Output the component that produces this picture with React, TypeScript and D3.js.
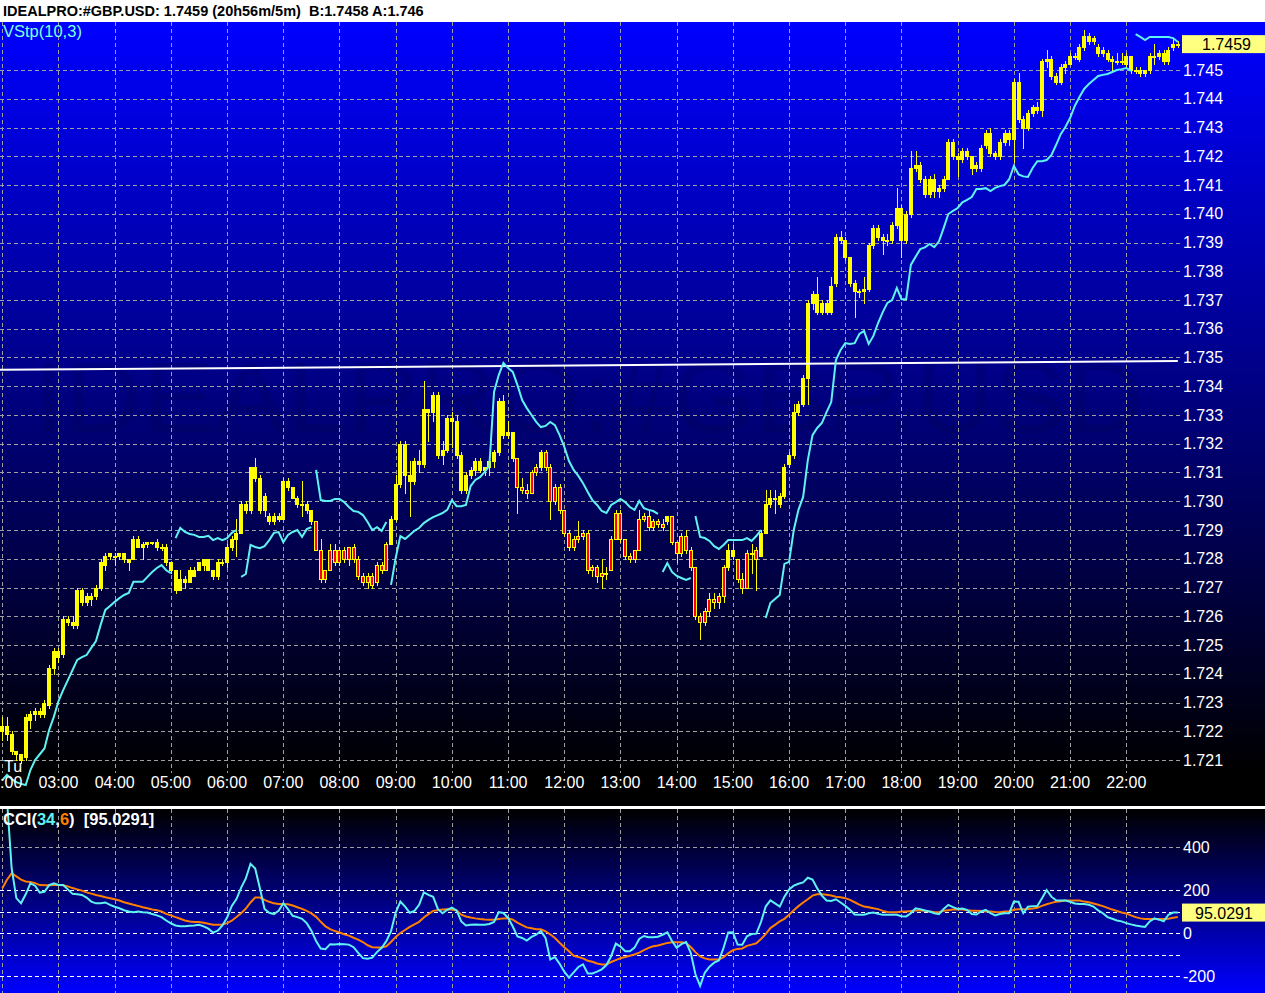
import React, { useEffect, useRef } from "react";
import * as d3 from "d3";

// 5 minute bars, 02:00 to 22:55
const opens = [
  1.7220, 1.7222, 1.7219, 1.7213, 1.7212, 1.7211, 1.7224, 1.7226, 1.7227, 1.7226,
  1.7229, 1.7242, 1.7248, 1.7247, 1.7259, 1.7258, 1.7257, 1.7269, 1.7265, 1.7267,
  1.7267, 1.7270, 1.7278, 1.7281, 1.7281, 1.7281, 1.7282, 1.7280, 1.7280, 1.7287,
  1.7284, 1.7285, 1.7286, 1.7286, 1.7284, 1.7284, 1.7279, 1.7276, 1.7269, 1.7273,
  1.7272, 1.7274, 1.7276, 1.7278, 1.7280, 1.7276, 1.7274, 1.7279, 1.7279, 1.7284,
  1.7287, 1.7289, 1.7299, 1.7297, 1.7312, 1.7308, 1.7297, 1.7295, 1.7293, 1.7295,
  1.7294, 1.7307, 1.7305, 1.7301, 1.7299, 1.7299, 1.7297, 1.7293, 1.7283, 1.7273,
  1.7276, 1.7283, 1.7279, 1.7283, 1.7280, 1.7284, 1.7280, 1.7274, 1.7272, 1.7274,
  1.7272, 1.7278, 1.7276, 1.7285, 1.7294, 1.7306, 1.7320, 1.7309, 1.7307, 1.7314,
  1.7313, 1.7332, 1.7331, 1.7337, 1.7316, 1.7318, 1.7329, 1.7328, 1.7316, 1.7304,
  1.7309, 1.7311, 1.7314, 1.7311, 1.7312, 1.7314, 1.7317, 1.7335, 1.7323, 1.7324,
  1.7315, 1.7305, 1.7304, 1.7303, 1.7310, 1.7312, 1.7317, 1.7312, 1.7300, 1.7305,
  1.7297, 1.7289, 1.7284, 1.7287, 1.7288, 1.7289, 1.7276, 1.7277, 1.7274, 1.7275,
  1.7276, 1.7287, 1.7296, 1.7287, 1.7281, 1.7280, 1.7283, 1.7294, 1.7295, 1.7291,
  1.7293, 1.7292, 1.7293, 1.7295, 1.7286, 1.7282, 1.7288, 1.7283, 1.7277, 1.7260,
  1.7258, 1.7262, 1.7266, 1.7265, 1.7267, 1.7277, 1.7283, 1.7280, 1.7273, 1.7270,
  1.7282, 1.7283, 1.7281, 1.7289, 1.7299, 1.7301, 1.7299, 1.7302, 1.7313, 1.7316,
  1.7331, 1.7334, 1.7343, 1.7369, 1.7372, 1.7366, 1.7369, 1.7366, 1.7376, 1.7392,
  1.7391, 1.7385, 1.7376, 1.7373, 1.7373, 1.7374, 1.7389, 1.7395, 1.7392, 1.7391,
  1.7391, 1.7396, 1.7402, 1.7391, 1.7400, 1.7416, 1.7417, 1.7412, 1.7407, 1.7412,
  1.7408, 1.7409, 1.7412, 1.7425, 1.7420, 1.7419, 1.7422, 1.7420, 1.7416, 1.7416,
  1.7424, 1.7428, 1.7421, 1.7420, 1.7425, 1.7428, 1.7426, 1.7446, 1.7433, 1.7430,
  1.7435, 1.7437, 1.7436, 1.7453, 1.7454, 1.7448, 1.7446, 1.7451, 1.7452, 1.7455,
  1.7454, 1.7458, 1.7462, 1.7460, 1.7458, 1.7457, 1.7456, 1.7454, 1.7453, 1.7453,
  1.7452, 1.7455, 1.7450, 1.7450, 1.7449, 1.7450, 1.7455, 1.7455, 1.7456, 1.7453,
  1.7458, 1.7459,
];

const highs = [
  1.7225, 1.7225, 1.7220, 1.7213, 1.7212, 1.7226, 1.7227, 1.7228, 1.7228, 1.7231,
  1.7243, 1.7249, 1.7249, 1.7260, 1.7260, 1.7260, 1.7270, 1.7270, 1.7268, 1.7268,
  1.7271, 1.7280, 1.7282, 1.7282, 1.7282, 1.7282, 1.7282, 1.7280, 1.7288, 1.7288,
  1.7286, 1.7286, 1.7286, 1.7287, 1.7285, 1.7285, 1.7279, 1.7276, 1.7276, 1.7274,
  1.7277, 1.7277, 1.7279, 1.7280, 1.7280, 1.7276, 1.7280, 1.7280, 1.7285, 1.7288,
  1.7294, 1.7300, 1.7300, 1.7312, 1.7315, 1.7309, 1.7303, 1.7296, 1.7296, 1.7296,
  1.7308, 1.7308, 1.7305, 1.7302, 1.7307, 1.7300, 1.7297, 1.7293, 1.7287, 1.7276,
  1.7285, 1.7285, 1.7284, 1.7284, 1.7284, 1.7285, 1.7281, 1.7275, 1.7275, 1.7275,
  1.7279, 1.7279, 1.7286, 1.7295, 1.7309, 1.7321, 1.7321, 1.7314, 1.7315, 1.7318,
  1.7342, 1.7332, 1.7338, 1.7338, 1.7321, 1.7330, 1.7331, 1.7330, 1.7317, 1.7310,
  1.7312, 1.7315, 1.7315, 1.7312, 1.7314, 1.7318, 1.7336, 1.7337, 1.7328, 1.7324,
  1.7315, 1.7308, 1.7306, 1.7311, 1.7313, 1.7318, 1.7318, 1.7313, 1.7306, 1.7306,
  1.7297, 1.7290, 1.7288, 1.7293, 1.7290, 1.7290, 1.7278, 1.7278, 1.7280, 1.7277,
  1.7288, 1.7297, 1.7297, 1.7287, 1.7282, 1.7283, 1.7297, 1.7296, 1.7297, 1.7294,
  1.7294, 1.7294, 1.7295, 1.7295, 1.7286, 1.7289, 1.7290, 1.7284, 1.7277, 1.7261,
  1.7263, 1.7268, 1.7268, 1.7268, 1.7278, 1.7285, 1.7285, 1.7280, 1.7275, 1.7283,
  1.7285, 1.7284, 1.7290, 1.7304, 1.7304, 1.7304, 1.7303, 1.7313, 1.7317, 1.7334,
  1.7335, 1.7344, 1.7370, 1.7373, 1.7378, 1.7370, 1.7370, 1.7378, 1.7393, 1.7394,
  1.7392, 1.7385, 1.7377, 1.7374, 1.7378, 1.7390, 1.7396, 1.7396, 1.7393, 1.7393,
  1.7397, 1.7409, 1.7403, 1.7401, 1.7422, 1.7422, 1.7418, 1.7413, 1.7413, 1.7414,
  1.7410, 1.7413, 1.7426, 1.7426, 1.7421, 1.7423, 1.7423, 1.7420, 1.7418, 1.7424,
  1.7429, 1.7430, 1.7422, 1.7426, 1.7429, 1.7429, 1.7447, 1.7449, 1.7434, 1.7436,
  1.7438, 1.7439, 1.7454, 1.7457, 1.7455, 1.7449, 1.7452, 1.7453, 1.7456, 1.7456,
  1.7459, 1.7464, 1.7463, 1.7462, 1.7459, 1.7458, 1.7457, 1.7455, 1.7456, 1.7456,
  1.7456, 1.7455, 1.7451, 1.7451, 1.7450, 1.7456, 1.7459, 1.7457, 1.7457, 1.7458,
  1.7461, 1.7460,
];

const lows = [
  1.7217, 1.7217, 1.7212, 1.7210, 1.7209, 1.7210, 1.7221, 1.7224, 1.7225, 1.7225,
  1.7228, 1.7240, 1.7244, 1.7246, 1.7257, 1.7256, 1.7256, 1.7264, 1.7264, 1.7264,
  1.7266, 1.7269, 1.7276, 1.7280, 1.7278, 1.7280, 1.7279, 1.7276, 1.7280, 1.7284,
  1.7280, 1.7284, 1.7285, 1.7283, 1.7283, 1.7278, 1.7275, 1.7268, 1.7269, 1.7270,
  1.7272, 1.7274, 1.7276, 1.7276, 1.7276, 1.7273, 1.7273, 1.7278, 1.7277, 1.7283,
  1.7281, 1.7289, 1.7296, 1.7296, 1.7307, 1.7296, 1.7295, 1.7292, 1.7292, 1.7293,
  1.7294, 1.7304, 1.7301, 1.7298, 1.7295, 1.7296, 1.7292, 1.7283, 1.7272, 1.7272,
  1.7276, 1.7278, 1.7278, 1.7279, 1.7278, 1.7279, 1.7273, 1.7271, 1.7270, 1.7270,
  1.7271, 1.7275, 1.7276, 1.7285, 1.7293, 1.7305, 1.7303, 1.7295, 1.7306, 1.7310,
  1.7312, 1.7321, 1.7328, 1.7315, 1.7313, 1.7317, 1.7319, 1.7315, 1.7303, 1.7303,
  1.7308, 1.7309, 1.7310, 1.7309, 1.7309, 1.7312, 1.7316, 1.7322, 1.7322, 1.7314,
  1.7296, 1.7303, 1.7301, 1.7303, 1.7309, 1.7311, 1.7311, 1.7294, 1.7299, 1.7296,
  1.7288, 1.7283, 1.7283, 1.7286, 1.7287, 1.7275, 1.7274, 1.7272, 1.7270, 1.7273,
  1.7276, 1.7287, 1.7286, 1.7280, 1.7279, 1.7279, 1.7283, 1.7293, 1.7290, 1.7290,
  1.7291, 1.7290, 1.7292, 1.7285, 1.7279, 1.7281, 1.7282, 1.7276, 1.7259, 1.7252,
  1.7257, 1.7260, 1.7263, 1.7263, 1.7265, 1.7276, 1.7280, 1.7272, 1.7268, 1.7270,
  1.7275, 1.7269, 1.7281, 1.7289, 1.7298, 1.7296, 1.7298, 1.7301, 1.7312, 1.7315,
  1.7330, 1.7333, 1.7334, 1.7367, 1.7365, 1.7365, 1.7365, 1.7365, 1.7375, 1.7390,
  1.7384, 1.7375, 1.7364, 1.7371, 1.7369, 1.7373, 1.7388, 1.7391, 1.7386, 1.7389,
  1.7390, 1.7395, 1.7385, 1.7390, 1.7399, 1.7415, 1.7411, 1.7406, 1.7406, 1.7406,
  1.7406, 1.7408, 1.7412, 1.7419, 1.7413, 1.7418, 1.7419, 1.7414, 1.7415, 1.7415,
  1.7423, 1.7420, 1.7419, 1.7419, 1.7424, 1.7424, 1.7418, 1.7432, 1.7423, 1.7429,
  1.7434, 1.7435, 1.7434, 1.7451, 1.7447, 1.7445, 1.7445, 1.7449, 1.7452, 1.7454,
  1.7453, 1.7457, 1.7459, 1.7459, 1.7455, 1.7455, 1.7453, 1.7450, 1.7452, 1.7452,
  1.7451, 1.7449, 1.7449, 1.7448, 1.7448, 1.7449, 1.7452, 1.7454, 1.7452, 1.7452,
  1.7457, 1.7458,
];

const closes = [
  1.7222, 1.7219, 1.7213, 1.7212, 1.7210, 1.7225, 1.7226, 1.7227, 1.7226, 1.7230,
  1.7242, 1.7248, 1.7246, 1.7259, 1.7258, 1.7257, 1.7269, 1.7265, 1.7267, 1.7266,
  1.7270, 1.7279, 1.7281, 1.7282, 1.7281, 1.7282, 1.7280, 1.7279, 1.7287, 1.7284,
  1.7285, 1.7286, 1.7286, 1.7284, 1.7284, 1.7279, 1.7276, 1.7269, 1.7273, 1.7272,
  1.7276, 1.7276, 1.7279, 1.7280, 1.7276, 1.7274, 1.7279, 1.7279, 1.7284, 1.7287,
  1.7289, 1.7299, 1.7297, 1.7312, 1.7308, 1.7297, 1.7302, 1.7293, 1.7295, 1.7294,
  1.7307, 1.7305, 1.7301, 1.7299, 1.7299, 1.7297, 1.7293, 1.7283, 1.7273, 1.7276,
  1.7283, 1.7279, 1.7283, 1.7280, 1.7284, 1.7280, 1.7274, 1.7272, 1.7274, 1.7271,
  1.7278, 1.7276, 1.7285, 1.7294, 1.7306, 1.7320, 1.7309, 1.7307, 1.7314, 1.7313,
  1.7332, 1.7331, 1.7337, 1.7316, 1.7318, 1.7329, 1.7328, 1.7316, 1.7304, 1.7309,
  1.7311, 1.7314, 1.7311, 1.7312, 1.7314, 1.7317, 1.7335, 1.7323, 1.7324, 1.7315,
  1.7305, 1.7304, 1.7303, 1.7310, 1.7312, 1.7317, 1.7312, 1.7300, 1.7305, 1.7297,
  1.7289, 1.7284, 1.7287, 1.7288, 1.7289, 1.7276, 1.7277, 1.7274, 1.7275, 1.7275,
  1.7287, 1.7296, 1.7287, 1.7281, 1.7280, 1.7283, 1.7294, 1.7295, 1.7291, 1.7293,
  1.7292, 1.7291, 1.7295, 1.7286, 1.7282, 1.7288, 1.7283, 1.7277, 1.7260, 1.7258,
  1.7262, 1.7266, 1.7265, 1.7267, 1.7277, 1.7283, 1.7281, 1.7273, 1.7270, 1.7282,
  1.7282, 1.7280, 1.7289, 1.7299, 1.7301, 1.7301, 1.7302, 1.7312, 1.7316, 1.7331,
  1.7334, 1.7343, 1.7369, 1.7372, 1.7366, 1.7369, 1.7366, 1.7375, 1.7392, 1.7391,
  1.7385, 1.7376, 1.7373, 1.7373, 1.7374, 1.7389, 1.7395, 1.7392, 1.7391, 1.7391,
  1.7396, 1.7402, 1.7391, 1.7400, 1.7416, 1.7417, 1.7412, 1.7407, 1.7412, 1.7408,
  1.7409, 1.7412, 1.7425, 1.7420, 1.7419, 1.7422, 1.7420, 1.7416, 1.7417, 1.7423,
  1.7428, 1.7421, 1.7420, 1.7425, 1.7428, 1.7426, 1.7446, 1.7433, 1.7430, 1.7435,
  1.7437, 1.7436, 1.7453, 1.7454, 1.7448, 1.7446, 1.7451, 1.7452, 1.7455, 1.7455,
  1.7458, 1.7462, 1.7460, 1.7461, 1.7456, 1.7456, 1.7454, 1.7453, 1.7453, 1.7453,
  1.7455, 1.7450, 1.7450, 1.7449, 1.7450, 1.7455, 1.7455, 1.7456, 1.7453, 1.7457,
  1.7459, 1.7459,
];

// volatility stop VStp(10,3), one value per bar
const vstop = [
  1.72030, 1.72048, 1.72034, 1.72023, 1.72017, 1.72013, 1.72065, 1.72100, 1.72120, 1.72140,
  1.72204, 1.72250, 1.72305, 1.72343, 1.72378, 1.72413, 1.72448, 1.72458, 1.72465, 1.72490,
  1.72514, 1.72570, 1.72622, 1.72636, 1.72650, 1.72663, 1.72674, 1.72681, 1.72720, 1.72720,
  1.72720, 1.72737, 1.72754, 1.72768, 1.72778, 1.72760, 1.72750, 1.72872, 1.72907, 1.72893,
  1.72886, 1.72883, 1.72876, 1.72876, 1.72880, 1.72865, 1.72872, 1.72865, 1.72872, 1.72890,
  1.72900, 1.72737, 1.72747, 1.72848, 1.72841, 1.72837, 1.72844, 1.72865, 1.72890, 1.72893,
  1.72858, 1.72883, 1.72893, 1.72900, 1.72876, 1.72903, 1.72910, 1.73109, 1.73004, 1.73001,
  1.73001, 1.73008, 1.73008, 1.72997, 1.72980, 1.72966, 1.72963, 1.72952, 1.72928, 1.72900,
  1.72910, 1.72897, 1.72928, 1.72709, 1.72803, 1.72879, 1.72869, 1.72883, 1.72897, 1.72907,
  1.72924, 1.72935, 1.72945, 1.72952, 1.72959, 1.72970, 1.73004, 1.72983, 1.72983, 1.72987,
  1.73053, 1.73074, 1.73084, 1.73102, 1.73123, 1.73380, 1.73439, 1.73481, 1.73463, 1.73450,
  1.73404, 1.73352, 1.73324, 1.73300, 1.73276, 1.73258, 1.73262, 1.73276, 1.73265, 1.73230,
  1.73189, 1.73140, 1.73109, 1.73088, 1.73063, 1.73032, 1.73004, 1.72987, 1.72966, 1.72959,
  1.72987, 1.72997, 1.73008, 1.72997, 1.72980, 1.72970, 1.73001, 1.72976, 1.72970, 1.72966,
  1.72956, 1.72754, 1.72785, 1.72754, 1.72740, 1.72733, 1.72726, 1.72733, 1.72949, 1.72876,
  1.72872, 1.72862, 1.72844, 1.72834, 1.72848, 1.72865, 1.72865, 1.72865, 1.72865, 1.72872,
  1.72862, 1.72879, 1.72900, 1.72594, 1.72646, 1.72660, 1.72674, 1.72782, 1.72789, 1.72900,
  1.72970, 1.73015, 1.73143, 1.73230, 1.73255, 1.73272, 1.73310, 1.73345, 1.73491, 1.73526,
  1.73550, 1.73547, 1.73550, 1.73582, 1.73592, 1.73547, 1.73575, 1.73620, 1.73658, 1.73690,
  1.73700, 1.73742, 1.73703, 1.73703, 1.73822, 1.73850, 1.73877, 1.73883, 1.73895, 1.73884,
  1.73904, 1.73950, 1.73999, 1.74010, 1.74020, 1.74040, 1.74048, 1.74058, 1.74086, 1.74086,
  1.74089, 1.74079, 1.74090, 1.74096, 1.74100, 1.74120, 1.74166, 1.74137, 1.74130, 1.74128,
  1.74159, 1.74183, 1.74183, 1.74187, 1.74204, 1.74239, 1.74277, 1.74302, 1.74333, 1.74375,
  1.74406, 1.74434, 1.74451, 1.74465, 1.74479, 1.74483, 1.74486, 1.74493, 1.74500, 1.74503,
  1.74507, 1.74497, 1.74625, 1.74615, 1.74604, 1.74615, 1.74615, 1.74615, 1.74615, 1.74615,
  1.74611, 1.74597,
];
// bars where the stop flips side and a new line piece starts
const vstopFlips = [37, 51, 67, 83, 141, 148, 163, 242];

// CCI(34) and its 6 bar average
const cci = [
  750, 620, 300, 162, 138, 180, 231, 220, 188, 192,
  223, 231, 223, 223, 203, 182, 180, 177, 165, 146,
  138, 138, 142, 131, 122, 115, 106, 100, 97, 100,
  97, 95, 88, 82, 74, 58, 45, 35, 31, 31,
  34, 35, 38, 31, 20, 2, 11, 35, 72, 126,
  158, 211, 254, 322, 300, 208, 112, 94, 88, 103,
  138, 111, 80, 74, 66, 46, 11, -37, -72, -75,
  -52, -54, -51, -52, -54, -66, -92, -117, -120, -115,
  -89, -69, -38, 8, 95, 146, 123, 94, 103, 131,
  189, 177, 168, 112, 92, 108, 118, 105, 54, 35,
  38, 40, 38, 38, 42, 51, 97, 93, 70, 30,
  -16, -23, -35, -18, -8, 9, -23, -123, -112, -143,
  -180, -208, -183, -158, -146, -188, -188, -180, -169, -149,
  -108, -49, -63, -85, -85, -68, -28, -14, -20, -20,
  -17, -8, 3, -37, -69, -52, -42, -92, -192, -246,
  -185, -157, -138, -128, -69, 2, 3, -54, -55, -15,
  -5, -3, 51, 123, 152, 138, 123, 169, 203, 220,
  229, 235, 257, 249, 208, 174, 151, 149, 157, 142,
  126, 108, 86, 85, 85, 92, 95, 89, 85, 85,
  85, 85, 78, 77, 92, 115, 111, 105, 100, 92,
  88, 112, 131, 120, 112, 114, 108, 88, 86, 100,
  108, 92, 82, 88, 92, 92, 146, 145, 92, 122,
  125, 126, 162, 200, 169, 152, 151, 151, 145, 137,
  135, 135, 131, 123, 105, 92, 74, 66, 58, 54,
  46, 40, 35, 31, 28, 54, 68, 62, 54, 85,
  95, 95.0291,
];

const cciAvg = [
  208, 248, 277, 263, 248, 240, 237, 232, 223, 222,
  222, 223, 223, 222, 217, 209, 203, 197, 189, 183,
  177, 172, 166, 162, 157, 151, 143, 137, 131, 126,
  120, 115, 109, 106, 100, 89, 82, 74, 66, 58,
  54, 51, 51, 48, 43, 38, 38, 40, 46, 57,
  74, 92, 114, 142, 165, 165, 154, 145, 138, 135,
  135, 134, 128, 120, 112, 103, 91, 75, 52, 31,
  18, 9, 2, -6, -12, -22, -31, -42, -57, -66,
  -68, -68, -62, -42, -18, 0, 14, 28, 40, 52,
  72, 88, 103, 106, 109, 111, 109, 105, 85, 77,
  72, 68, 65, 63, 62, 62, 65, 68, 69, 62,
  48, 37, 26, 22, 18, 17, 8, -6, -23, -45,
  -66, -85, -106, -112, -118, -129, -134, -142, -146, -146,
  -135, -126, -117, -112, -106, -100, -91, -80, -69, -62,
  -58, -52, -46, -43, -43, -43, -46, -65, -89, -109,
  -118, -123, -123, -123, -112, -95, -80, -74, -72, -60,
  -54, -48, -28, -5, 23, 38, 54, 66, 85, 106,
  125, 142, 157, 174, 180, 180, 178, 174, 169, 166,
  162, 154, 143, 132, 123, 120, 115, 111, 103, 98,
  97, 97, 100, 100, 102, 105, 105, 103, 100, 98,
  97, 103, 106, 109, 111, 109, 106, 103, 103, 102,
  100, 100, 98, 97, 100, 100, 108, 111, 111, 112,
  114, 117, 126, 134, 140, 145, 148, 151, 151, 151,
  151, 146, 143, 137, 131, 125, 117, 109, 102, 95,
  91, 82, 74, 68, 65, 65, 65, 65, 65, 66,
  71, 74,
];

const priceTicks = [
  1.721, 1.722, 1.723, 1.724, 1.725, 1.726, 1.727, 1.728, 1.729, 1.73, 1.731, 1.732, 1.733,
  1.734, 1.735, 1.736, 1.737, 1.738, 1.739, 1.74, 1.741, 1.742, 1.743, 1.744, 1.745,
];
const hourLabels = [
  "02:00", "03:00", "04:00", "05:00", "06:00", "07:00", "08:00", "09:00", "10:00", "11:00",
  "12:00", "13:00", "14:00", "15:00", "16:00", "17:00", "18:00", "19:00", "20:00", "21:00", "22:00",
];
const cciTicks = [400, 200, 0, -200];
const cciLevels = [200, 100, 0, -100, -200];
const trendLine = [
  { bar: -0.5, price: 1.73457 },
  { bar: 251, price: 1.73488 },
];
const lastPrice = 1.7459;
const lastCci = 95.0291;

const FONT = "'Liberation Sans', Arial, sans-serif";
const CYAN = "#5ff2f2";
const ORANGE = "#ff8000";
const GRID = "#a0a0a0";

export default function App() {
  const svgRef = useRef<SVGSVGElement>(null);

  const drawChart = () => {
    document.body.style.margin = "0";
    const width = 1265,
      height = 993;
    const plotRight = 1180;
    const mainTop = 22,
      mainBottom = 806;
    const cciTop = 809;

    const svg = d3.select(svgRef.current);
    svg.selectAll("*").remove();
    svg.attr("width", width).attr("height", height);

    // scales
    const x = d3.scaleLinear().domain([0, 251]).range([2.3, 1177.8]);
    const y = d3.scaleLinear().domain([1.721, 1.745]).range([760, 70]);
    const yc = d3.scaleLinear().domain([-200, 400]).range([976, 847]);
    const px = (i: number) => Math.round(x(i));

    const defs = svg.append("defs");
    const gMain = defs
      .append("linearGradient")
      .attr("id", "gMain")
      .attr("gradientUnits", "userSpaceOnUse")
      .attr("x1", 0).attr("x2", 0)
      .attr("y1", mainTop).attr("y2", 772);
    gMain.append("stop").attr("offset", 0).attr("stop-color", "#0000ff");
    gMain.append("stop").attr("offset", 1).attr("stop-color", "#000000");
    const gCci = defs
      .append("linearGradient")
      .attr("id", "gCci")
      .attr("gradientUnits", "userSpaceOnUse")
      .attr("x1", 0).attr("x2", 0)
      .attr("y1", cciTop).attr("y2", height);
    gCci.append("stop").attr("offset", 0).attr("stop-color", "#000000");
    gCci.append("stop").attr("offset", 1).attr("stop-color", "#0000ff");
    defs.append("clipPath").attr("id", "clipMain")
      .append("rect").attr("x", 0).attr("y", mainTop).attr("width", plotRight).attr("height", mainBottom - mainTop);
    defs.append("clipPath").attr("id", "clipCci")
      .append("rect").attr("x", 0).attr("y", cciTop).attr("width", plotRight).attr("height", height - cciTop);

    // backgrounds
    svg.append("rect").attr("width", width).attr("height", mainTop).attr("fill", "#ffffff");
    svg.append("rect").attr("y", mainTop).attr("width", width).attr("height", mainBottom - mainTop).attr("fill", "url(#gMain)");
    svg.append("rect").attr("y", mainBottom).attr("width", width).attr("height", 3).attr("fill", "#ffffff");
    svg.append("rect").attr("y", cciTop).attr("width", width).attr("height", height - cciTop).attr("fill", "url(#gCci)");

    // faint watermark
    svg.append("text")
      .attr("x", 34).attr("y", 432)
      .attr("textLength", 1110).attr("lengthAdjust", "spacingAndGlyphs")
      .attr("font-family", FONT).attr("font-size", 100)
      .attr("fill", "#000000").attr("opacity", 0.08)
      .text("IDEALPRO:#GBP.USD");

    // grids
    const hours = hourLabels.map((_, h) => h * 12);
    const grid = svg.append("g").attr("stroke-dasharray", "4,3").attr("shape-rendering", "crispEdges");
    grid.selectAll("line.vm").data(hours).join("line")
      .attr("x1", (d) => px(d) + 0.5).attr("x2", (d) => px(d) + 0.5)
      .attr("y1", mainTop).attr("y2", 773)
      .attr("stroke", GRID);
    grid.selectAll("line.hm").data(priceTicks).join("line")
      .attr("x1", 0).attr("x2", plotRight)
      .attr("y1", (d) => Math.round(y(d)) + 0.5).attr("y2", (d) => Math.round(y(d)) + 0.5)
      .attr("stroke", GRID);
    const gridC = svg.append("g").attr("stroke-dasharray", "4,3").attr("shape-rendering", "crispEdges");
    gridC.selectAll("line.vc").data(hours).join("line")
      .attr("x1", (d) => px(d) + 0.5).attr("x2", (d) => px(d) + 0.5)
      .attr("y1", cciTop).attr("y2", height)
      .attr("stroke", GRID);
    gridC.append("line")
      .attr("x1", 0).attr("x2", plotRight)
      .attr("y1", Math.round(yc(400)) + 0.5).attr("y2", Math.round(yc(400)) + 0.5)
      .attr("stroke", GRID);
    gridC.selectAll("line.lc").data(cciLevels).join("line")
      .attr("x1", 0).attr("x2", plotRight)
      .attr("y1", (d) => Math.round(yc(d)) + 0.5).attr("y2", (d) => Math.round(yc(d)) + 0.5)
      .attr("stroke", "#ffffff");

    // candles, red while the CCI is below zero
    const bars = d3.range(closes.length);
    const plot = svg.append("g").attr("clip-path", "url(#clipMain)");
    const candles = plot.append("g").attr("shape-rendering", "crispEdges");
    candles.selectAll("line").data(bars).join("line")
      .attr("x1", (i) => px(i) + 0.5).attr("x2", (i) => px(i) + 0.5)
      .attr("y1", (i) => Math.round(y(highs[i])))
      .attr("y2", (i) => Math.round(y(lows[i])) + 1)
      .attr("stroke", "#ffff00");
    candles.selectAll("rect").data(bars).join("rect")
      .attr("x", (i) => px(i) - 1.5)
      .attr("y", (i) => Math.round(y(Math.max(opens[i], closes[i]))) + 0.5)
      .attr("width", 3)
      .attr("height", (i) =>
        Math.max(1, Math.round(y(Math.min(opens[i], closes[i]))) - Math.round(y(Math.max(opens[i], closes[i]))))
      )
      .attr("fill", (i) => (cci[i] < 0 ? "#ff0000" : "#ffff00"))
      .attr("stroke", "#ffff00");

    // volatility stop, broken where it flips side
    const pieces: number[][] = [];
    let start = 0;
    [...vstopFlips, vstop.length].forEach((b) => {
      pieces.push(d3.range(start, b));
      start = b;
    });
    const stopLine = d3.line<number>().x((i) => x(i)).y((i) => y(vstop[i]));
    svg.append("g").attr("clip-path", "url(#clipMain)")
      .selectAll("path").data(pieces).join("path")
      .attr("d", (d) => stopLine(d))
      .attr("fill", "none").attr("stroke", CYAN).attr("stroke-width", 2);

    // trend line
    plot.append("path")
      .attr("d", d3.line<{ bar: number; price: number }>().x((d) => x(d.bar)).y((d) => y(d.price))(trendLine))
      .attr("stroke", "#ffffff").attr("stroke-width", 2).attr("fill", "none");

    // CCI panel
    const cciPlot = svg.append("g").attr("clip-path", "url(#clipCci)");
    const cciLine = d3.line<number>().x((_, i) => x(i)).y((d) => yc(d));
    cciPlot.append("path").attr("d", cciLine(cciAvg)).attr("fill", "none").attr("stroke", ORANGE).attr("stroke-width", 2);
    cciPlot.append("path").attr("d", cciLine(cci)).attr("fill", "none").attr("stroke", CYAN).attr("stroke-width", 2);

    // texts
    const txt = svg.append("g").attr("font-family", FONT);
    txt.append("text").attr("x", 3).attr("y", 15.5)
      .attr("font-size", 14.5).attr("font-weight", "bold").attr("fill", "#000000")
      .text("IDEALPRO:#GBP.USD: 1.7459 (20h56m/5m)  B:1.7458 A:1.746")
      .style("white-space", "pre");
    txt.append("text").attr("x", 3).attr("y", 37).attr("font-size", 16.5).attr("fill", "#80ffdc").text("VStp(10,3)");

    txt.selectAll("text.pt").data(priceTicks).join("text")
      .attr("x", 1183).attr("y", (d) => y(d) + 5.5)
      .attr("font-size", 16).attr("fill", "#ffffff")
      .text((d) => d3.format(".3f")(d));
    txt.selectAll("text.tl").data(hours).join("text")
      .attr("x", (d) => x(d)).attr("y", 788)
      .attr("text-anchor", "middle").attr("font-size", 16).attr("fill", "#ffffff")
      .text((_, k) => hourLabels[k]);
    txt.append("text").attr("x", 4).attr("y", 771.5).attr("font-size", 16).attr("fill", "#ffffff").text("Tu");

    txt.append("rect").attr("x", 1182).attr("y", y(lastPrice) - 9).attr("width", 83).attr("height", 18).attr("fill", "#ffff80");
    txt.append("text").attr("x", 1202).attr("y", y(lastPrice) + 6).attr("font-size", 16).attr("fill", "#000000")
      .text(d3.format(".4f")(lastPrice));

    const cciTitle = txt.append("text").attr("x", 3).attr("y", 825)
      .attr("font-size", 16.5).attr("font-weight", "bold").attr("fill", "#ffffff").style("white-space", "pre");
    cciTitle.append("tspan").text("CCI(");
    cciTitle.append("tspan").attr("fill", CYAN).text("34");
    cciTitle.append("tspan").text(",");
    cciTitle.append("tspan").attr("fill", ORANGE).text("6");
    cciTitle.append("tspan").text(`)  [${lastCci}]`);

    txt.selectAll("text.ct").data(cciTicks).join("text")
      .attr("x", 1183).attr("y", (d) => yc(d) + 5.5)
      .attr("font-size", 16).attr("fill", "#ffffff")
      .text((d) => String(d));
    txt.append("rect").attr("x", 1182).attr("y", yc(lastCci) - 9).attr("width", 83).attr("height", 18).attr("fill", "#ffff80");
    txt.append("text").attr("x", 1195).attr("y", yc(lastCci) + 6).attr("font-size", 16).attr("fill", "#000000")
      .text(String(lastCci));
  };

  useEffect(drawChart, []);

  return <svg ref={svgRef} style={{ display: "block" }}></svg>;
}
